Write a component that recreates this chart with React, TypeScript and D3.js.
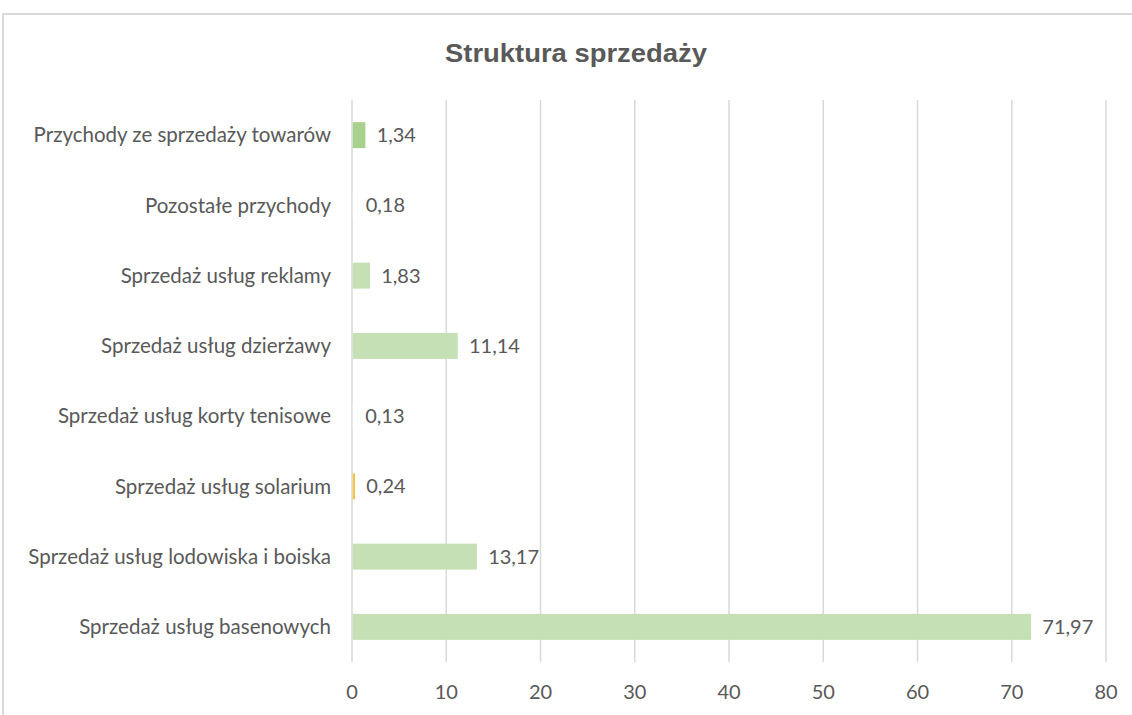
import React from "react";
import * as d3 from "d3";

const categories = [
  "Przychody ze sprzedaży towarów",
  "Pozostałe przychody",
  "Sprzedaż usług reklamy",
  "Sprzedaż usług dzierżawy",
  "Sprzedaż usług korty tenisowe",
  "Sprzedaż usług solarium",
  "Sprzedaż usług lodowiska i boiska",
  "Sprzedaż usług basenowych",
];
const values = [1.34, 0.18, 1.83, 11.14, 0.13, 0.24, 13.17, 71.97];
const valueLabels = ["1,34", "0,18", "1,83", "11,14", "0,13", "0,24", "13,17", "71,97"];
const barColors = ["#A9D18E", "#FFFFFF", "#C5E0B4", "#C5E0B4", "#FFFFFF", "#F4C542", "#C5E0B4", "#C5E0B4"];
const xTicks = [0, 10, 20, 30, 40, 50, 60, 70, 80];
const title = "Struktura sprzedaży";

const W = 1132;
const H = 715;
const plot = { left: 352, right: 1106, top: 100, bottom: 662 };
const FONT = "Lato, 'Open Sans', sans-serif";
const TXT = "#595959";

export default function App() {
  const x = d3.scaleLinear().domain([0, 80]).range([plot.left, plot.right]);
  const y = d3
    .scaleBand<string>()
    .domain(categories)
    .range([plot.top, plot.bottom])
    .paddingInner(0.63)
    .paddingOuter(0.315);
  const bw = y.bandwidth();

  return (
    <svg
      width={W}
      height={H}
      style={{ position: "absolute", left: 0, top: 0, display: "block", background: "#fff" }}
    >
      <rect x={3} y={14} width={W + 10} height={H + 10} fill="#fff" stroke="#D9D9D9" strokeWidth={2} />
      <text
        x={576}
        y={62}
        textAnchor="middle"
        fontFamily="'Liberation Sans', Arial, sans-serif"
        fontWeight="bold"
        fontSize={25}
        fill={TXT}
        textLength={262}
        lengthAdjust="spacingAndGlyphs"
      >
        {title}
      </text>
      {xTicks.map((t) => (
        <g key={t}>
          <line x1={x(t)} x2={x(t)} y1={plot.top} y2={plot.bottom} stroke="#D9D9D9" strokeWidth={1.5} />
          <text x={x(t)} y={699} textAnchor="middle" fontFamily={FONT} fontSize={20} fill={TXT}>
            {t}
          </text>
        </g>
      ))}
      {categories.map((c, i) => {
        const yc = (y(c) as number) + bw / 2;
        return (
          <g key={c}>
            <rect x={x(0) + 0.75} y={y(c)} width={Math.max(0, x(values[i]) - x(0))} height={bw} fill={barColors[i]} />
            <text x={331} y={yc} dy="0.35em" textAnchor="end" fontFamily={FONT} fontSize={20.5} fill={TXT}>
              {c}
            </text>
            <text x={x(values[i]) + 12} y={yc} dy="0.35em" textAnchor="start" fontFamily={FONT} fontSize={20} fill={TXT}>
              {valueLabels[i]}
            </text>
          </g>
        );
      })}
    </svg>
  );
}
